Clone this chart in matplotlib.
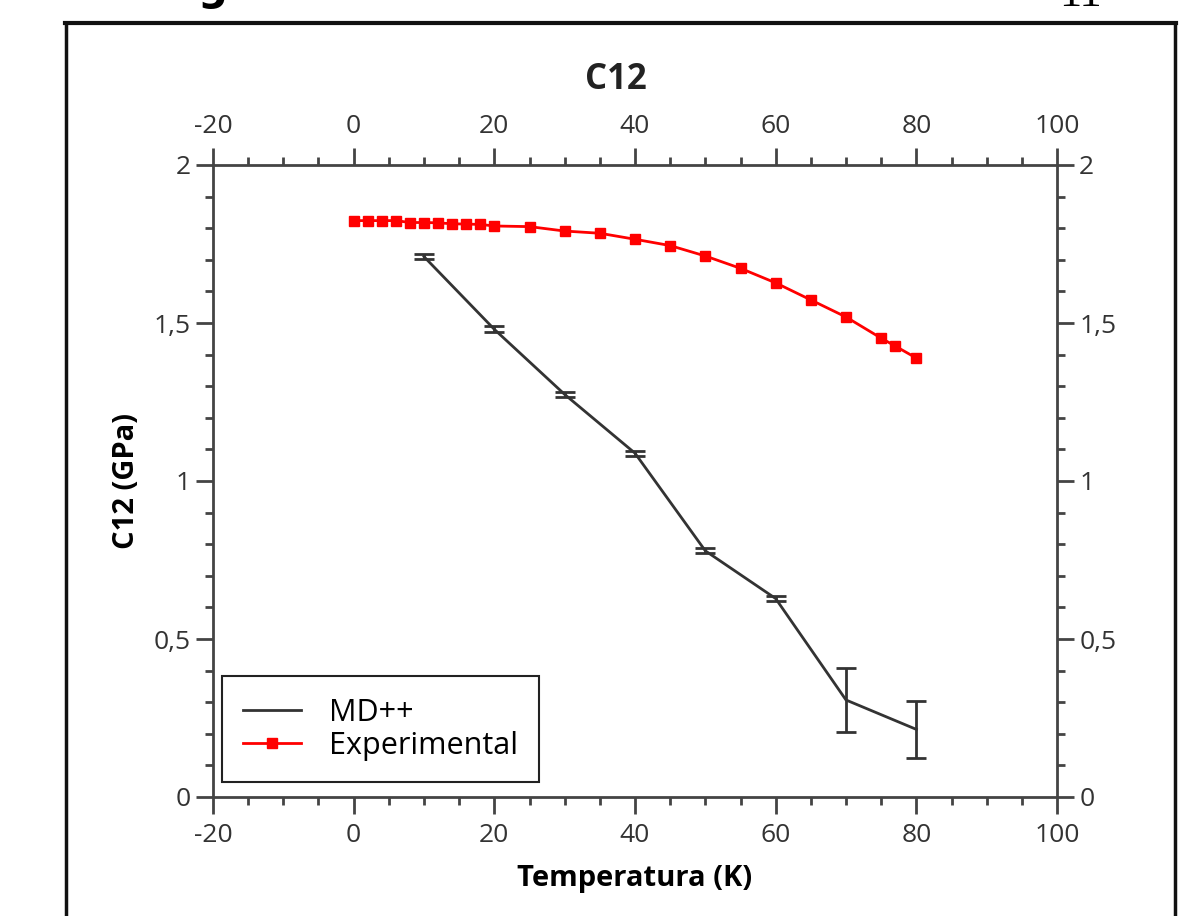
import matplotlib
matplotlib.use("Agg")
import matplotlib.pyplot as plt
from matplotlib.ticker import MultipleLocator, FuncFormatter
from matplotlib.lines import Line2D

plt.rcParams['font.family'] = ['Open Sans', 'DejaVu Sans']

# MD++ simulation
md_T = [10, 20, 30, 40, 50, 60, 70, 80]
md_C12 = [1.710, 1.480, 1.274, 1.088, 0.779, 0.628, 0.307, 0.214]
md_err = [0.009, 0.010, 0.009, 0.008, 0.008, 0.007, 0.100, 0.090]

# experimental values
exp_T = [0, 2, 4, 6, 8, 10, 12, 14, 16, 18, 20, 25, 30, 35, 40, 45, 50,
         55, 60, 65, 70, 75, 77, 80]
exp_C12 = [1.824, 1.824, 1.824, 1.824, 1.818, 1.818, 1.817, 1.814, 1.813,
           1.812, 1.807, 1.805, 1.791, 1.784, 1.765, 1.745, 1.712, 1.673,
           1.627, 1.573, 1.519, 1.452, 1.427, 1.389]

grey = '#444444'

fig = plt.figure(figsize=(12.03, 9.16), dpi=100)
ax = fig.add_axes([213/1203, 1-797/916, 844/1203, 632/916])

ax.plot(md_T, md_C12, color='#333333', lw=2)
ax.errorbar(md_T, md_C12, yerr=md_err, fmt='none', ecolor='#333333',
            elinewidth=2, capsize=7, capthick=2)
ax.plot(exp_T, exp_C12, color='#ff0000', lw=2, marker='s', markersize=7)

ax.set_xlim(-20, 100)
ax.set_ylim(0, 2)
ax.xaxis.set_major_locator(MultipleLocator(20))
ax.xaxis.set_minor_locator(MultipleLocator(5))
ax.yaxis.set_major_locator(MultipleLocator(0.5))
ax.yaxis.set_minor_locator(MultipleLocator(0.1))
fmt = FuncFormatter(lambda v, p: '{:g}'.format(v).replace('.', ','))
ax.xaxis.set_major_formatter(fmt)
ax.yaxis.set_major_formatter(fmt)

for s in ax.spines.values():
    s.set_color(grey)
    s.set_linewidth(2)
ax.tick_params(which='both', direction='out', color=grey, width=2,
               top=True, right=True, labeltop=True, labelright=True,
               labelsize=19, labelcolor='#333333')
ax.tick_params(which='major', length=12, pad=4)
ax.tick_params(which='minor', length=6)
ax.tick_params(axis='x', which='major', pad=7)

ax.set_xlabel('Temperatura (K)', fontsize=21, fontweight='bold', labelpad=11)
ax.set_ylabel('C12 (GPa)', fontsize=21, fontweight='bold', labelpad=9)
fig.text(616/1203, 1-80/916, 'C12', fontsize=25, fontweight='bold',
         ha='center', va='center', color='#222222')

handles = [Line2D([], [], color='#333333', lw=2),
           Line2D([], [], color='#ff0000', lw=2, marker='s', markersize=7)]
leg = ax.legend(handles, ['MD++', 'Experimental'], loc='lower left',
                bbox_to_anchor=(0.0107, 0.0237), fontsize=22, fancybox=False,
                framealpha=1, edgecolor='#222222', handlelength=1.9,
                handletextpad=0.9, borderpad=0.7, borderaxespad=0,
                labelspacing=0.1)
leg.get_frame().set_linewidth(1.5)

# page frame around the figure
fig.add_artist(Line2D([65/1203, 1176/1203], [1-23/916, 1-23/916],
                      color='#111111', lw=3))
fig.add_artist(Line2D([66/1203, 66/1203], [1-23/916, 0], color='#111111', lw=2.5))
fig.add_artist(Line2D([1175/1203, 1175/1203], [1-23/916, 0], color='#111111', lw=2.5))
fig.text(212/1203, 1.0, 'g', fontsize=30, fontweight='bold', ha='center',
         va='baseline', family='DejaVu Sans')
fig.text(1080/1203, 1-6/916, '11', fontsize=32, ha='center', va='baseline',
         family='Liberation Serif')

fig.savefig('out.png', dpi=100)
